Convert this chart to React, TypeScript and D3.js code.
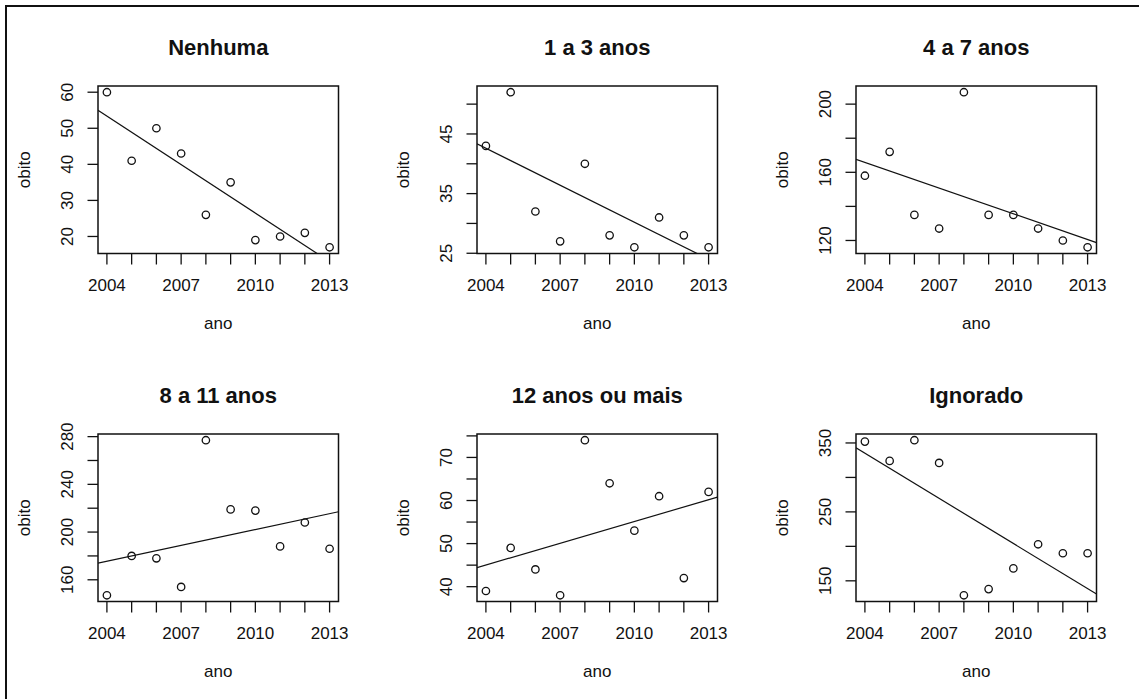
import React from "react";
import * as d3 from "d3";

const width = 1139;
const height = 699;

// dados
const anos = [2004, 2005, 2006, 2007, 2008, 2009, 2010, 2011, 2012, 2013];
const nenhuma = [60, 41, 50, 43, 26, 35, 19, 20, 21, 17];
const umATres = [43, 52, 32, 27, 40, 28, 26, 31, 28, 26];
const quatroASete = [158, 172, 135, 127, 207, 135, 135, 127, 120, 116];
const oitoAOnze = [147, 180, 178, 154, 277, 219, 218, 188, 208, 186];
const dozeOuMais = [39, 49, 44, 38, 74, 64, 53, 61, 42, 62];
const ignorado = [352, 324, 354, 321, 129, 138, 168, 203, 190, 190];

const titulos = ["Nenhuma", "1 a 3 anos", "4 a 7 anos", "8 a 11 anos", "12 anos ou mais", "Ignorado"];
const series = [nenhuma, umATres, quatroASete, oitoAOnze, dozeOuMais, ignorado];

const xTickLabels = [2004, 2007, 2010, 2013];
const yTicks = [
  [20, 30, 40, 50, 60],
  [25, 30, 35, 40, 45, 50],
  [120, 140, 160, 180, 200],
  [160, 180, 200, 220, 240, 260, 280],
  [40, 45, 50, 55, 60, 65, 70, 75],
  [150, 200, 250, 300, 350],
];
const yTickLabels = [
  [20, 30, 40, 50, 60],
  [25, 35, 45],
  [120, 160, 200],
  [160, 200, 240, 280],
  [40, 50, 60, 70],
  [150, 250, 350],
];

const colLeft = [98, 477, 856];
const rowTop = [86, 434];
const boxW = 240.5;
const boxH = 167.5;
const font = "'Liberation Sans', Arial, sans-serif";

// limites estilo R: faixa dos dados +- 4%
const rLim = (v: number[]) => {
  const [a, b] = d3.extent(v) as [number, number];
  const p = (b - a) * 0.04;
  return [a - p, b + p];
};

const Panel = ({ i }: { i: number }) => {
  const y0 = series[i];
  const left = colLeft[i % 3];
  const top = rowTop[Math.floor(i / 3)];
  const x = d3.scaleLinear().domain(rLim(anos)).range([left, left + boxW]);
  const y = d3.scaleLinear().domain(rLim(y0)).range([top + boxH, top]);

  // reta de regressao (lm)
  const mx = d3.mean(anos)!;
  const my = d3.mean(y0)!;
  const slope =
    d3.sum(anos, (a, k) => (a - mx) * (y0[k] - my)) / d3.sum(anos, (a) => (a - mx) ** 2);
  const [xa, xb] = x.domain();
  const fit = (a: number) => my + slope * (a - mx);
  const line = d3.line<number>().x((a) => x(a)).y((a) => y(fit(a)));

  const bottom = top + boxH;
  const clipId = `clip${i}`;

  return (
    <g>
      <clipPath id={clipId}>
        <rect x={left} y={top} width={boxW} height={boxH} />
      </clipPath>
      <text x={left + boxW / 2} y={top - 31} textAnchor="middle" fontSize={22} fontWeight="bold">
        {titulos[i]}
      </text>
      <rect x={left} y={top} width={boxW} height={boxH} fill="none" stroke="#111" strokeWidth={1.5} />
      {anos.map((a) => (
        <line key={a} x1={x(a)} x2={x(a)} y1={bottom} y2={bottom + 11} stroke="#111" strokeWidth={1.3} />
      ))}
      {xTickLabels.map((a) => (
        <text key={a} x={x(a)} y={bottom + 37} textAnchor="middle" fontSize={17}>
          {a}
        </text>
      ))}
      {yTicks[i].map((t) => (
        <line key={t} x1={left - 10.5} x2={left} y1={y(t)} y2={y(t)} stroke="#111" strokeWidth={1.3} />
      ))}
      {yTickLabels[i].map((t) => (
        <text
          key={t}
          x={left - 25}
          y={y(t)}
          textAnchor="middle"
          fontSize={17}
          transform={`rotate(-90, ${left - 25}, ${y(t)})`}
        >
          {t}
        </text>
      ))}
      <text
        x={left - 68}
        y={top + boxH / 2}
        textAnchor="middle"
        fontSize={17}
        transform={`rotate(-90, ${left - 68}, ${top + boxH / 2})`}
      >
        obito
      </text>
      <text x={left + boxW / 2} y={bottom + 75} textAnchor="middle" fontSize={17}>
        ano
      </text>
      <path d={line([xa, xb])!} stroke="#111" strokeWidth={1.2} fill="none" clipPath={`url(#${clipId})`} />
      {anos.map((a, k) => (
        <circle key={a} cx={x(a)} cy={y(y0[k])} r={3.7} fill="none" stroke="#111" strokeWidth={1.3} />
      ))}
    </g>
  );
};

export default function App() {
  return (
    <svg
      width={width}
      height={height}
      style={{ position: "absolute", left: 0, top: 0, background: "#fff" }}
      fontFamily={font}
      fill="#111"
    >
      <rect width={width} height={height} fill="#fff" />
      <line x1={6} x2={width} y1={6} y2={6} stroke="#111" strokeWidth={2} />
      <line x1={6} x2={6} y1={5} y2={height} stroke="#111" strokeWidth={2} />
      {titulos.map((t, i) => (
        <Panel key={t} i={i} />
      ))}
    </svg>
  );
}
